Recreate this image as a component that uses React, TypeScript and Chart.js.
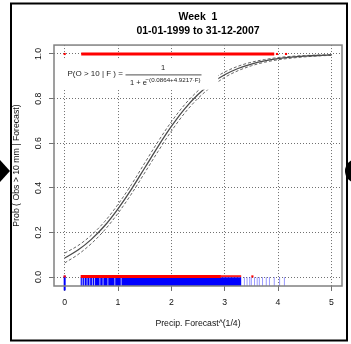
import React, { useEffect, useRef } from "react";
import { Chart, registerables } from "chart.js";

Chart.register(...registerables);

// ---------------- data ----------------
const titleLines = ["Week  1", "01-01-1999 to 31-12-2007"];
const xAxisTitle = "Precip. Forecast^(1/4)";
const yAxisTitle = "Prob ( Obs > 10 mm | Forecast)";
const xTicks = [0, 1, 2, 3, 4, 5];
const yTicks = [0, 0.2, 0.4, 0.6, 0.8, 1.0];

// forecast grid for the fitted logistic curve and its confidence band
const forecastGrid = [0, 0.25, 0.5, 0.75, 1, 1.25, 1.5, 1.75, 2, 2.25, 2.5, 2.75, 3, 3.25, 3.5, 3.75, 4, 4.25, 4.5, 4.75, 5];
const fitProb = [0.0855, 0.121, 0.169, 0.23, 0.306, 0.393, 0.489, 0.585, 0.675, 0.754, 0.818, 0.869, 0.907, 0.935, 0.955, 0.969, 0.979, 0.9855, 0.99, 0.9933, 0.9954];
const upperProb = [0.1075, 0.141, 0.188, 0.249, 0.326, 0.414, 0.511, 0.607, 0.696, 0.773, 0.835, 0.883, 0.919, 0.945, 0.963, 0.975, 0.984, 0.9895, 0.993, 0.9953, 0.9969];
const lowerProb = [0.0635, 0.101, 0.15, 0.211, 0.286, 0.372, 0.467, 0.563, 0.654, 0.735, 0.801, 0.853, 0.895, 0.925, 0.947, 0.963, 0.974, 0.9815, 0.987, 0.9913, 0.9939];

// observed events (obs > 10 mm) plotted at 1, non-events at 0
const obsHighRuns = [[0.31, 3.93]];
const obsHighPoints = [0, 3.98, 4.15];
const obsLowRuns = [[0.3, 2.93]];
const obsLowThinRuns = [[2.93, 3.31]];
const obsLowPoints = [0, 3.52];

// forecast rug
const forecastDenseRun = [[0.3, 3.31]];
const forecastZero = [0];
const forecastLight = [0.33, 0.37, 0.42, 0.47, 0.52, 0.56, 0.66, 0.72, 0.81, 0.94, 1.06];
const forecastSparse = [3.37, 3.42, 3.47, 3.5, 3.56, 3.61, 3.65, 3.71, 3.78, 3.84, 3.93, 4.03, 4.12];

// formula text
const formulaLhs = "P(O > 10 | F ) =";
const formulaNum = "1";
const formulaDenBase = "1 + e";
const formulaExp = "\u2212(0.0864+4.9217\u00B7F)";

// ---------------- helpers ----------------
const FONT = "'Liberation Sans', Arial, Helvetica, sans-serif";

const runs = (r: number[][], y: number) => {
  const pts: any[] = [];
  r.forEach(([a, b]) => {
    pts.push({ x: a, y }, { x: b, y }, { x: b, y: null });
  });
  return pts;
};
const ticksAt = (xs: number[], y0: number, y1: number) => {
  const pts: any[] = [];
  xs.forEach((x) => {
    pts.push({ x, y: y0 }, { x, y: y1 }, { x, y: null });
  });
  return pts;
};

const decorPlugin = {
  id: "decor",
  afterDatasetsDraw(chart: any) {
    const { ctx } = chart;
    const xs = chart.scales.x;
    const ys = chart.scales.y;
    // legend-like white box with the fitted formula
    const bx0 = xs.getPixelForValue(-0.05);
    const bx1 = xs.getPixelForValue(2.88);
    const by0 = ys.getPixelForValue(0.978);
    const by1 = ys.getPixelForValue(0.84);
    ctx.save();
    ctx.fillStyle = "#ffffff";
    ctx.fillRect(bx0, by0, bx1 - bx0, by1 - by0);
    ctx.fillStyle = "#222";
    ctx.textBaseline = "middle";
    ctx.textAlign = "left";
    ctx.font = `8px ${FONT}`;
    ctx.fillText(formulaLhs, bx0 + 5.5, by0 + 14.5);
    ctx.textAlign = "center";
    ctx.font = `7.5px ${FONT}`;
    ctx.fillText(formulaNum, bx0 + 101, by0 + 9);
    ctx.strokeStyle = "#222";
    ctx.lineWidth = 0.8;
    ctx.beginPath();
    ctx.moveTo(bx0 + 63.5, by0 + 16);
    ctx.lineTo(bx0 + 139.5, by0 + 16);
    ctx.stroke();
    ctx.textAlign = "left";
    ctx.font = `7.5px ${FONT}`;
    ctx.fillText(formulaDenBase, bx0 + 68, by0 + 24.5);
    ctx.font = `6.2px ${FONT}`;
    ctx.fillText(formulaExp, bx0 + 83.5, by0 + 21);
    ctx.restore();
  },
  afterDraw(chart: any) {
    const { ctx, chartArea } = chart;
    const ys = chart.scales.y;
    ctx.save();
    // plot box
    ctx.strokeStyle = "#808080";
    ctx.lineWidth = 1.5;
    ctx.strokeRect(chartArea.left, chartArea.top, chartArea.right - chartArea.left, chartArea.bottom - chartArea.top);
    // rotated y tick labels
    ctx.fillStyle = "#111";
    ctx.font = `8.7px ${FONT}`;
    ctx.textAlign = "center";
    ctx.textBaseline = "middle";
    yTicks.forEach((v) => {
      const y = ys.getPixelForValue(v);
      ctx.save();
      ctx.translate(chartArea.left - 15.5, y);
      ctx.rotate(-Math.PI / 2);
      ctx.fillText(v.toFixed(1), 0, 0);
      ctx.restore();
    });
    // outer frame
    ctx.strokeStyle = "#000";
    ctx.lineWidth = 2;
    ctx.strokeRect(11, 3.5, 336, 337);
    // navigation marks
    ctx.fillStyle = "#000";
    ctx.beginPath();
    ctx.moveTo(0, 160);
    ctx.lineTo(10, 171);
    ctx.lineTo(0, 182);
    ctx.closePath();
    ctx.fill();
    ctx.beginPath();
    ctx.arc(357, 171, 12, 0, Math.PI * 2);
    ctx.fill();
    ctx.restore();
  },
};

export default function App() {
  const ref = useRef<HTMLCanvasElement | null>(null);

  useEffect(() => {
    if (!ref.current) return;
    const fitData = forecastGrid.map((x, i) => ({ x, y: fitProb[i] }));
    const upData = forecastGrid.map((x, i) => ({ x, y: upperProb[i] }));
    const loData = forecastGrid.map((x, i) => ({ x, y: lowerProb[i] }));

    const chart = new Chart(ref.current, {
      type: "line",
      data: {
        datasets: [
          {
            data: fitData,
            borderColor: "#4a4a4a",
            borderWidth: 1.3,
            pointRadius: 0,
            cubicInterpolationMode: "monotone",
            order: 1,
          },
          {
            data: upData,
            borderColor: "#666",
            borderWidth: 1,
            borderDash: [3, 2],
            pointRadius: 0,
            cubicInterpolationMode: "monotone",
            order: 2,
          },
          {
            data: loData,
            borderColor: "#666",
            borderWidth: 1,
            borderDash: [3, 2],
            pointRadius: 0,
            cubicInterpolationMode: "monotone",
            order: 2,
          },
          {
            data: runs(obsHighRuns, 1),
            borderColor: "#ff0000",
            borderWidth: 3,
            borderCapStyle: "butt",
            pointRadius: 0,
            order: 3,
          },
          {
            data: obsHighPoints.map((x) => ({ x, y: 1 })),
            showLine: false,
            pointStyle: "rect",
            pointRadius: 1.5,
            pointBorderWidth: 0,
            pointBackgroundColor: "#ff0000",
            order: 3,
          },
          {
            data: runs(obsLowRuns, 0.003),
            borderColor: "#ff0000",
            borderWidth: 3,
            borderCapStyle: "butt",
            pointRadius: 0,
            order: 3,
          },
          {
            data: runs(obsLowThinRuns, 0.004),
            borderColor: "#ff2020",
            borderWidth: 2,
            borderCapStyle: "butt",
            pointRadius: 0,
            order: 3,
          },
          {
            data: obsLowPoints.map((x) => ({ x, y: 0.003 })),
            showLine: false,
            pointStyle: "rect",
            pointRadius: 1.5,
            pointBorderWidth: 0,
            pointBackgroundColor: "#ff0000",
            order: 3,
          },
          {
            data: ticksAt(forecastLight, -0.04, 0),
            borderColor: "rgba(185,185,255,0.9)",
            borderWidth: 1,
            pointRadius: 0,
            order: 5,
          },
          {
            data: ticksAt(forecastSparse, -0.04, 0),
            borderColor: "rgba(70,70,255,0.55)",
            borderWidth: 1,
            pointRadius: 0,
            order: 5,
          },
          {
            data: ticksAt(forecastZero, -0.06, 0.006),
            borderColor: "#0000ff",
            borderWidth: 2,
            pointRadius: 0,
            clip: false,
            order: 5,
          },
          {
            data: runs(forecastDenseRun, -0.021),
            borderColor: "#0000ff",
            borderWidth: 9,
            borderCapStyle: "butt",
            pointRadius: 0,
            order: 6,
          },
        ] as any,
      },
      options: {
        animation: false,
        responsive: false,
        devicePixelRatio: 1,
        layout: { padding: { left: 0, right: 9, top: 0, bottom: 0 } },
        plugins: {
          legend: { display: false },
          tooltip: { enabled: false },
          title: {
            display: true,
            text: titleLines,
            fullSize: false,
            color: "#000",
            font: { family: FONT, size: 10.5, weight: "bold", lineHeight: 1.36 },
            padding: { top: 9.6, bottom: 6.9 },
          },
        },
        scales: {
          x: {
            type: "linear",
            min: -0.2,
            max: 5.2,
            afterBuildTicks: (s: any) => {
              s.ticks = xTicks.map((v) => ({ value: v }));
            },
            afterFit: (s: any) => {
              s.height = 58;
            },
            ticks: {
              color: "#111",
              font: { family: FONT, size: 8.7 },
              padding: 6,
              maxRotation: 0,
              autoSkip: false,
              callback: (v: any) => String(v),
            },
            grid: {
              color: "#707070",
              lineWidth: 1,
              tickLength: 5,
              tickColor: "#707070",
              tickWidth: 1,
            },
            border: { display: false, dash: [1, 2] },
            title: {
              display: true,
              text: xAxisTitle,
              color: "#111",
              font: { family: FONT, size: 8.7 },
              padding: { top: 0, bottom: 15.3 },
            },
          },
          y: {
            type: "linear",
            min: -0.04,
            max: 1.04,
            afterBuildTicks: (s: any) => {
              s.ticks = yTicks.map((v) => ({ value: v }));
            },
            afterFit: (s: any) => {
              s.width = 54;
            },
            ticks: { display: false },
            grid: {
              color: "#707070",
              lineWidth: 1,
              tickLength: 5,
              tickColor: "#707070",
              tickWidth: 1,
            },
            border: { display: false, dash: [1, 2] },
            title: {
              display: true,
              text: yAxisTitle,
              color: "#111",
              font: { family: FONT, size: 8.7 },
              padding: { top: 11.8, bottom: 0 },
            },
          },
        },
      } as any,
      plugins: [decorPlugin],
    });
    return () => chart.destroy();
  }, []);

  return (
    <div style={{ position: "absolute", left: 0, top: 0, width: 351, height: 344, background: "#fff" }}>
      <canvas ref={ref} width={351} height={344} style={{ display: "block" }} />
    </div>
  );
}
